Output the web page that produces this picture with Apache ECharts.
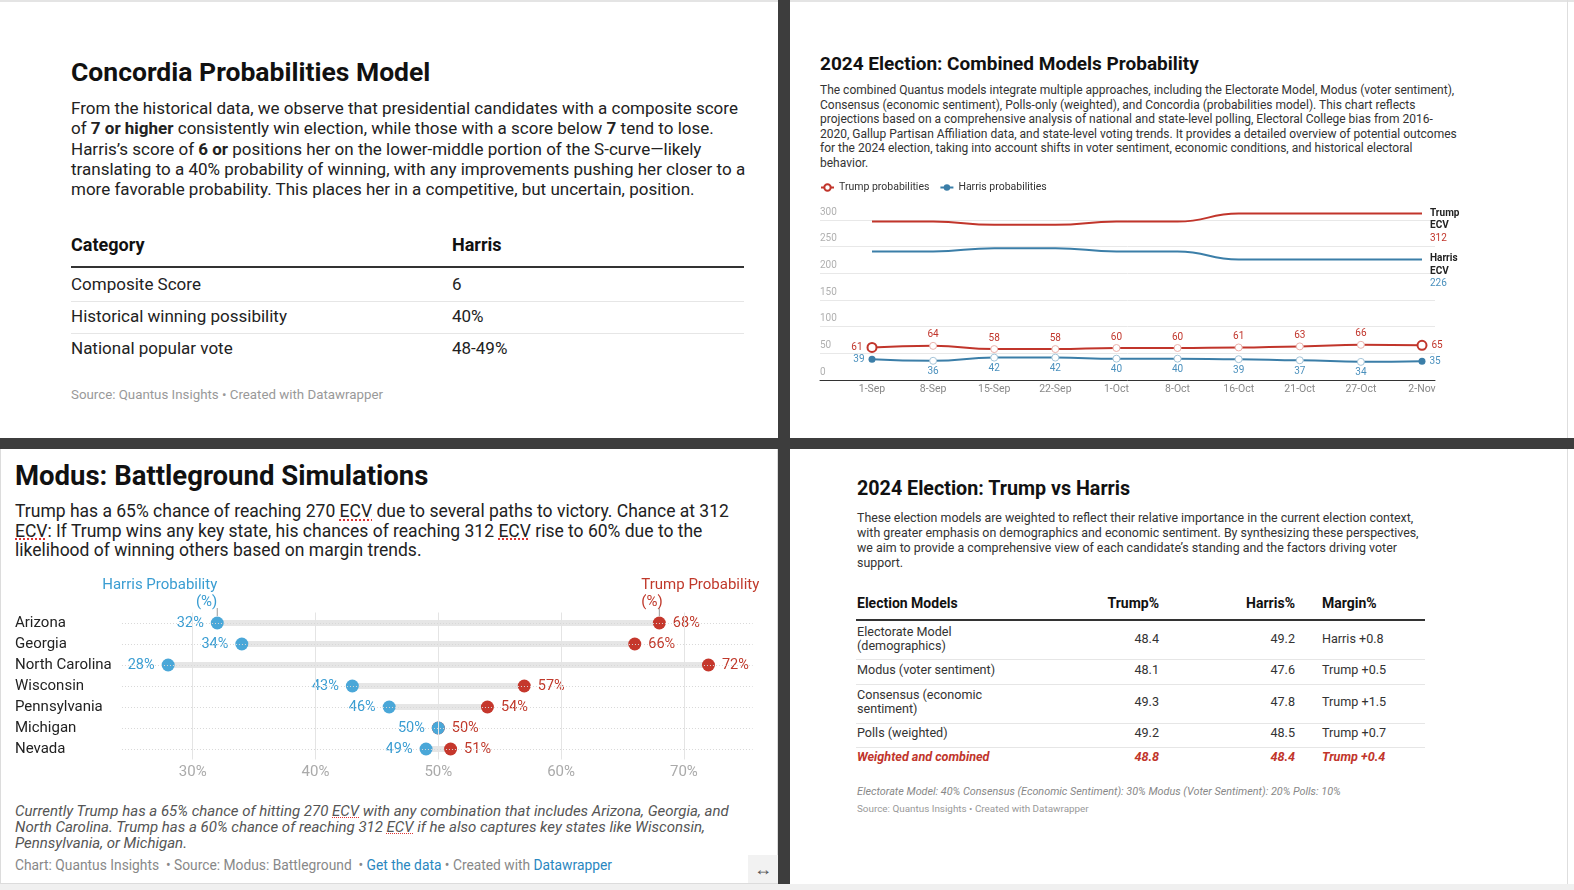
<!DOCTYPE html>
<html><head><meta charset="utf-8">
<script src="https://cdn.jsdelivr.net/npm/echarts@6/dist/echarts.min.js"></script>
<style>
html,body{margin:0;padding:0;}
body{width:1574px;height:890px;position:relative;overflow:hidden;background:#fff;font-family:Roboto,'Noto Sans',sans-serif;color:#222;}
.t{position:absolute;white-space:nowrap;}
.b{font-weight:700;}
.ecv{text-decoration:underline dotted #d33;text-underline-offset:2px;text-decoration-thickness:1.5px;}
.fn .ecv{text-underline-offset:1px;text-decoration-thickness:1px;}
.box{position:absolute;}
a{color:#2a87c0;text-decoration:none;}
</style></head><body>

<!-- frame -->
<div class="box" style="left:0;top:0;width:1574px;height:2px;background:#e4e4e4"></div>
<div class="box" style="left:0;top:449px;width:776px;height:434px;border:1px solid #dcdcdc;border-top:none"></div>
<div class="box" style="left:0;top:884px;width:1574px;height:6px;background:#f0f0f0"></div>
<div class="box" style="left:1567px;top:0;width:1px;height:884px;background:#dedede"></div>
<div class="box" style="left:778px;top:0;width:12px;height:884px;background:#3d3d3d;z-index:5"></div>
<div class="box" style="left:0;top:438px;width:1574px;height:11px;background:#3d3d3d;z-index:5"></div>

<!-- TOP LEFT -->
<div class="t b" style="left:71px;top:57px;font-size:26.5px;line-height:30px;color:#111">Concordia Probabilities Model</div>
<div class="t" style="left:71px;top:98px;font-size:17px;line-height:20.3px;color:#222">From the historical data, we observe that presidential candidates with a composite score<br>of <b>7 or higher</b> consistently win election, while those with a score below <b>7</b> tend to lose.<br>Harris’s score of <b>6 or</b> positions her on the lower-middle portion of the S-curve—likely<br>translating to a 40% probability of winning, with any improvements pushing her closer to a<br>more favorable probability. This places her in a competitive, but uncertain, position.</div>
<div id="tl-table"></div>
<div class="t" style="left:71px;top:385px;font-size:13.3px;line-height:20px;color:#999">Source: Quantus Insights • Created with Datawrapper</div>

<!-- TOP RIGHT -->
<div class="t b" style="left:820px;top:52px;font-size:19px;line-height:24px;color:#111">2024 Election: Combined Models Probability</div>
<div class="t" style="left:820px;top:83px;font-size:12px;line-height:14.5px;color:#333">The combined Quantus models integrate multiple approaches, including the Electorate Model, Modus (voter sentiment),<br>Consensus (economic sentiment), Polls-only (weighted), and Concordia (probabilities model). This chart reflects<br>projections based on a comprehensive analysis of national and state-level polling, Electoral College bias from 2016-<br>2020, Gallup Partisan Affiliation data, and state-level voting trends. It provides a detailed overview of potential outcomes<br>for the 2024 election, taking into account shifts in voter sentiment, economic conditions, and historical electoral<br>behavior.</div>
<div id="c1" class="box" style="left:790px;top:175px;width:777px;height:235px"></div>

<!-- BOTTOM LEFT -->
<div class="t b" style="left:15px;top:462px;font-size:27.5px;line-height:28px;color:#111">Modus: Battleground Simulations</div>
<div class="t" style="left:15px;top:502px;font-size:17.5px;line-height:19.5px;color:#222">Trump has a 65% chance of reaching 270 <span class="ecv">ECV</span> due to several paths to victory. Chance at 312<br><span class="ecv">ECV</span>: If Trump wins any key state, his chances of reaching 312 <span class="ecv">ECV</span> rise to 60% due to the<br>likelihood of winning others based on margin trends.</div>
<div id="c2" class="box" style="left:0;top:570px;width:840px;height:220px;z-index:2"></div>
<div class="t fn" style="left:15px;top:803px;font-size:15px;line-height:16px;color:#555;font-style:italic">Currently Trump has a 65% chance of hitting 270 <span class="ecv">ECV</span> with any combination that includes Arizona, Georgia, and<br>North Carolina. Trump has a 60% chance of reaching 312 <span class="ecv">ECV</span> if he also captures key states like Wisconsin,<br>Pennsylvania, or Michigan.</div>
<div class="t" style="left:15px;top:857px;font-size:13.8px;line-height:16px;color:#888">Chart: Quantus Insights &nbsp;• Source: Modus: Battleground &nbsp;• <a>Get the data</a> • Created with <a>Datawrapper</a></div>
<div class="box" style="left:748px;top:855px;width:30px;height:28px;background:#f2f2f2;color:#555;font-size:18px;line-height:28px;text-align:center">↔</div>

<!-- BOTTOM RIGHT -->
<div class="t b" style="left:857px;top:477px;font-size:19.7px;line-height:24px;color:#111">2024 Election: Trump vs Harris</div>
<div class="t" style="left:857px;top:509.5px;font-size:12.4px;line-height:15px;color:#333">These election models are weighted to reflect their relative importance in the current election context,<br>with greater emphasis on demographics and economic sentiment. By synthesizing these perspectives,<br>we aim to provide a comprehensive view of each candidate’s standing and the factors driving voter<br>support.</div>
<div id="br-table"></div>
<div class="t" style="left:857px;top:785px;font-size:10.8px;line-height:14px;color:#888;font-style:italic">Electorate Model: 40% Consensus (Economic Sentiment): 30% Modus (Voter Sentiment): 20% Polls: 10%</div>
<div class="t" style="left:857px;top:803px;font-size:9.9px;line-height:12px;color:#999">Source: Quantus Insights • Created with Datawrapper</div>

<script>
// ---------- DATA ----------
const concCategories = ['Composite Score', 'Historical winning possibility', 'National popular vote'];
const concHarris = ['6', '40%', '48-49%'];

const ecvDates = ['1-Sep','8-Sep','15-Sep','22-Sep','1-Oct','8-Oct','16-Oct','21-Oct','27-Oct','2-Nov'];
const trumpECV = [297, 297, 291, 291, 297, 297, 312, 312, 312, 312];
const harrisECV = [241, 241, 247, 247, 241, 241, 226, 226, 226, 226];
const trumpProb = [61, 64, 58, 58, 60, 60, 61, 63, 66, 65];
const harrisProb = [39, 36, 42, 42, 40, 40, 39, 37, 34, 35];

const states = ['Arizona','Georgia','North Carolina','Wisconsin','Pennsylvania','Michigan','Nevada'];
const harrisState = [32, 34, 28, 43, 46, 50, 49];
const trumpState = [68, 66, 72, 57, 54, 50, 51];
const stateTicks = [30, 40, 50, 60, 70];

const models = ['Electorate Model\n(demographics)', 'Modus (voter sentiment)', 'Consensus (economic\nsentiment)', 'Polls (weighted)', 'Weighted and combined'];
const modelTrump = ['48.4', '48.1', '49.3', '49.2', '48.8'];
const modelHarris = ['49.2', '47.6', '47.8', '48.5', '48.4'];
const modelMargin = ['Harris +0.8', 'Trump +0.5', 'Trump +1.5', 'Trump +0.7', 'Trump +0.4'];

const RED = '#c1352b';
const BLUE = '#3b7ea8';

// ---------- TOP-LEFT TABLE ----------
(function(){
  let h = '';
  h += '<div class="t b" style="left:71px;top:235px;font-size:18px;line-height:20px;color:#111">Category</div>';
  h += '<div class="t b" style="left:452px;top:235px;font-size:18px;line-height:20px;color:#111">Harris</div>';
  h += '<div class="box" style="left:71px;top:266px;width:673px;height:2px;background:#333"></div>';
  const tops = [274, 306, 338];
  concCategories.forEach((c, i) => {
    h += `<div class="t" style="left:71px;top:${tops[i]}px;font-size:17px;line-height:20px;color:#222">${c}</div>`;
    h += `<div class="t" style="left:452px;top:${tops[i]}px;font-size:17px;line-height:20px;color:#222">${concHarris[i]}</div>`;
    if (i < concCategories.length - 1)
      h += `<div class="box" style="left:71px;top:${tops[i]+26.5}px;width:673px;height:1px;background:#e6e6e6"></div>`;
  });
  document.getElementById('tl-table').innerHTML = h;
})();

// ---------- BOTTOM-RIGHT TABLE ----------
(function(){
  let h = '';
  const hs = 'font-size:14px;line-height:16px;color:#111;top:595px';
  h += `<div class="t b" style="left:857px;${hs}">Election Models</div>`;
  h += `<div class="t b" style="right:${1574-1159}px;${hs}">Trump%</div>`;
  h += `<div class="t b" style="right:${1574-1295}px;${hs}">Harris%</div>`;
  h += `<div class="t b" style="left:1322px;${hs}">Margin%</div>`;
  h += '<div class="box" style="left:856px;top:619px;width:569px;height:2px;background:#333"></div>';
  const centers = [639, 670, 702, 733, 757];
  const seps = [659, 684, 723, 747];
  models.forEach((m, i) => {
    const last = i === models.length - 1;
    const st = last ? `font-weight:700;font-style:italic;color:${RED};` : 'color:#333;';
    const lines = m.split('\n');
    const lh = 14;
    const top = centers[i] - lines.length * lh / 2;
    h += `<div class="t" style="left:857px;top:${top}px;font-size:12.6px;line-height:${lh}px;${st}">${lines.join('<br>')}</div>`;
    h += `<div class="t" style="right:${1574-1159}px;top:${centers[i]-7}px;font-size:12.6px;line-height:14px;${st}">${modelTrump[i]}</div>`;
    h += `<div class="t" style="right:${1574-1295}px;top:${centers[i]-7}px;font-size:12.6px;line-height:14px;${st}">${modelHarris[i]}</div>`;
    h += `<div class="t" style="left:1322px;top:${centers[i]-7}px;font-size:12.6px;line-height:14px;${st}">${modelMargin[i]}</div>`;
    if (i < seps.length) h += `<div class="box" style="left:856px;top:${seps[i]}px;width:569px;height:1px;background:#e6e6e6"></div>`;
  });
  document.getElementById('br-table').innerHTML = h;
})();

// ---------- TOP-RIGHT LINE CHART ----------
(function(){
  const chart = echarts.init(document.getElementById('c1'), null, {renderer: 'canvas'});
  const n = ecvDates.length - 1;
  const endRich = (name, val, col) => ({
    show: true, distance: 8, offset: [0, 12],
    formatter: () => `{n|${name}}\n{n|ECV}\n{v|${val}}`,
    rich: {
      n: {fontFamily: 'Roboto', fontWeight: 'bold', fontSize: 10, color: '#222', lineHeight: 12.5},
      v: {fontFamily: 'Roboto', fontSize: 10, color: col, lineHeight: 12.5}
    }
  });
  chart.setOption({
    animation: false,
    textStyle: {fontFamily: 'Roboto'},
    legend: {
      left: 30, top: 7, padding: 0, itemWidth: 13, itemHeight: 8, itemGap: 10,
      textStyle: {fontSize: 10.5, color: '#333', fontFamily: 'Roboto'},
      data: ['Trump probabilities', 'Harris probabilities']
    },
    grid: [
      {left: 30, top: 45, width: 615, height: 160, outerBoundsMode: 'none'},
      {left: 82, top: 29, width: 550, height: 176, outerBoundsMode: 'none'}
    ],
    xAxis: [
      {gridIndex: 0, type: 'value', min: 0, max: 1, axisLine: {show: true, onZero: false, lineStyle: {color: '#333', width: 1}},
       axisTick: {show: false}, axisLabel: {show: false}, splitLine: {show: false}},
      {gridIndex: 1, type: 'category', data: ecvDates, boundaryGap: false, axisLine: {show: false}, axisTick: {show: false},
       axisLabel: {color: '#888', fontSize: 10.5, margin: 4, interval: 0}}
    ],
    yAxis: [
      {gridIndex: 0, type: 'value', min: 0, max: 300, interval: 50, axisLine: {show: false}, axisTick: {show: false},
       splitLine: {lineStyle: {color: '#e8e8e8'}},
       axisLabel: {inside: true, verticalAlign: 'bottom', color: '#b0b0b0', fontSize: 10, margin: 0, padding: [0, 0, 3, 0]}},
      {gridIndex: 1, type: 'value', min: 0, max: 330, show: false}
    ],
    series: [
      {type: 'line', name: 'Trump ECV', xAxisIndex: 1, yAxisIndex: 1, data: trumpECV, smooth: 0.5, smoothMonotone: 'x',
       symbol: 'none', showSymbol: false, lineStyle: {color: RED, width: 2}, itemStyle: {color: RED},
       endLabel: endRich('Trump', trumpECV[n], RED)},
      {type: 'line', name: 'Harris ECV', xAxisIndex: 1, yAxisIndex: 1, data: harrisECV, smooth: 0.5, smoothMonotone: 'x',
       symbol: 'none', showSymbol: false, lineStyle: {color: BLUE, width: 2}, itemStyle: {color: BLUE},
       endLabel: endRich('Harris', harrisECV[n], '#4a90bd')},
      {type: 'line', name: 'Trump probabilities', xAxisIndex: 1, yAxisIndex: 1, smooth: 0.5, smoothMonotone: 'x',
       symbol: 'circle', symbolSize: 9, lineStyle: {color: RED, width: 2},
       itemStyle: {color: '#fff', borderColor: RED, borderWidth: 2},
       label: {show: true, position: 'top', distance: 2, color: RED, fontSize: 10},
       data: trumpProb.map((v, i) => (i === 0 || i === n)
         ? {value: v, label: {position: i === 0 ? 'left' : 'right', distance: 4}}
         : {value: v, symbolSize: 7, itemStyle: {color: '#fff', borderColor: '#eab1ab', borderWidth: 1}})},
      {type: 'line', name: 'Harris probabilities', xAxisIndex: 1, yAxisIndex: 1, smooth: 0.5, smoothMonotone: 'x',
       symbol: 'circle', symbolSize: 7, lineStyle: {color: BLUE, width: 2},
       itemStyle: {color: BLUE},
       label: {show: true, position: 'bottom', distance: 2, color: '#4a90bd', fontSize: 10},
       data: harrisProb.map((v, i) => (i === 0 || i === n)
         ? {value: v, label: {position: i === 0 ? 'left' : 'right', distance: 4}}
         : {value: v, symbolSize: 7, itemStyle: {color: '#fff', borderColor: '#a4c4d8', borderWidth: 1}})}
    ]
  });
})();

// ---------- BOTTOM-LEFT DOT PLOT ----------
(function(){
  const chart = echarts.init(document.getElementById('c2'), null, {renderer: 'canvas'});
  const HB = '#4aa7d8', HT = '#3a9dd2', TR = '#c5372c';
  chart.setOption({
    animation: false,
    textStyle: {fontFamily: 'Roboto'},
    grid: {left: 69.9, top: 42.5, width: 736.8, height: 147, outerBoundsMode: 'none'},
    xAxis: {type: 'value', min: 20, max: 80, interval: 10, axisLine: {show: false}, axisTick: {show: false}, splitLine: {show: false},
      axisLabel: {color: '#aaa', fontSize: 15, margin: 5, formatter: v => stateTicks.includes(v) ? v + '%' : ''}},
    yAxis: {type: 'category', data: states, inverse: true, axisLine: {show: false}, axisTick: {show: false},
      axisLabel: {align: 'left', margin: 54.9, color: '#222', fontSize: 15}},
    series: [
      {type: 'scatter', z: 0, silent: true, symbolSize: 0, data: harrisState.map((v, i) => [v, i]),
       markLine: {silent: true, symbol: 'none', label: {show: false}, animation: false,
         data: stateTicks.map(t => ({xAxis: t, lineStyle: {color: '#e4e4e4', width: 1, type: 'solid'}}))
           .concat(states.map(s => [{coord: [24.24, s], lineStyle: {color: '#d8d8d8', width: 1, type: [1, 2]}}, {coord: [75.6, s]}]))}},
      {type: 'custom', z: 2, silent: true,
       data: states.map((s, i) => [harrisState[i], trumpState[i], i]),
       encode: {x: [0, 1], y: 2},
       renderItem: (params, api) => {
         const a = api.coord([api.value(0), api.value(2)]);
         const b = api.coord([api.value(1), api.value(2)]);
         return {type: 'line', shape: {x1: a[0], y1: a[1], x2: b[0], y2: b[1]}, style: {stroke: '#e6e6e6', lineWidth: 6}};
       }},
      {type: 'scatter', name: 'Trump', z: 3, symbolSize: 13, itemStyle: {color: TR, opacity: 1},
       data: trumpState.map((v, i) => [v, i]),
       label: {show: true, position: 'right', distance: 7, color: '#c0392b', fontSize: 14.5, formatter: p => p.value[0] + '%'}},
      {type: 'scatter', name: 'Harris', z: 4, symbolSize: 13, itemStyle: {color: HB, opacity: 1},
       data: harrisState.map((v, i) => [v, i]),
       label: {show: true, position: 'left', distance: 7, color: HT, fontSize: 14.5, formatter: p => p.value[0] + '%'}}
    ]
  });
  const ph = chart.convertToPixel({gridIndex: 0}, [harrisState[0], 0]);
  const pt = chart.convertToPixel({gridIndex: 0}, [trumpState[0], 0]);
  chart.setOption({
    graphic: [
      {type: 'text', x: ph[0], y: ph[1] - 12, style: {text: 'Harris Probability\n(%)', align: 'right', verticalAlign: 'bottom',
        fill: HT, fontFamily: 'Roboto', fontSize: 15, lineHeight: 17}},
      {type: 'line', shape: {x1: ph[0], y1: ph[1] - 15, x2: ph[0], y2: ph[1] - 7}, style: {stroke: '#999', lineWidth: 1}},
      {type: 'text', x: pt[0] - 18, y: pt[1] - 12, style: {text: 'Trump Probability\n(%)', align: 'left', verticalAlign: 'bottom',
        fill: '#c0392b', fontFamily: 'Roboto', fontSize: 15, lineHeight: 17}},
      {type: 'line', shape: {x1: pt[0], y1: pt[1] - 15, x2: pt[0], y2: pt[1] - 7}, style: {stroke: '#999', lineWidth: 1}}
    ]
  });
})();
</script>
</body></html>
